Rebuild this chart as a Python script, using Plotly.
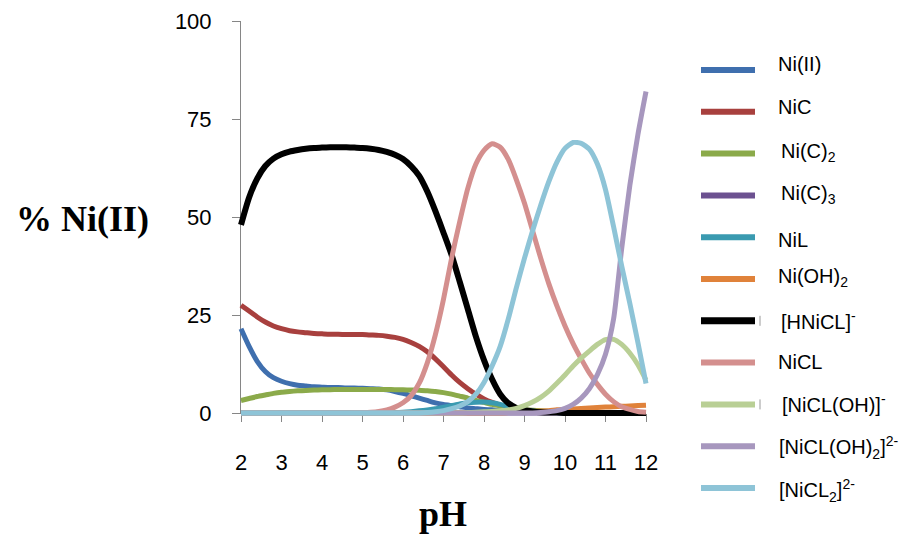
import plotly.graph_objects as go

# pH grid (step 0.2)
ph = [round(2 + 0.2 * i, 1) for i in range(51)]

ni_ii = [21.5, 17, 13.2, 10.6, 9.0, 8.1, 7.5, 7.1, 6.9, 6.7, 6.6, 6.5, 6.5, 6.4, 6.4, 6.3, 6.2, 6.1, 5.9, 5.5,
         5.0, 4.4, 3.8, 3.2, 2.6, 2.2, 1.9, 1.6, 1.3, 1.1, 0.9, 0.8, 0.6, 0.5, 0.4, 0.3, 0.2, 0.15, 0.1, 0.1,
         0, 0, 0, 0, 0, 0, 0, 0, 0, 0, 0]
nic = [27.5, 26, 24.5, 23.2, 22.2, 21.5, 21.0, 20.7, 20.5, 20.3, 20.2, 20.1, 20.1, 20.0, 20.0, 20.0, 19.9, 19.8,
       19.6, 19.3, 18.8, 18.0, 17.0, 15.6, 13.8, 11.8, 9.7, 7.8, 6.2, 4.8, 3.6, 2.7, 2.0, 1.4, 1.0, 0.6, 0.4,
       0.25, 0.15, 0.1, 0, 0, 0, 0, 0, 0, 0, 0, 0, 0, 0]
ni_c2 = [3.2, 3.7, 4.2, 4.6, 5.0, 5.3, 5.5, 5.65, 5.75, 5.85, 5.9, 5.95, 6.0, 6.0, 6.0, 6.0, 6.0, 6.0, 6.0, 5.95,
         5.9, 5.85, 5.8, 5.65, 5.5, 5.2, 4.8, 4.3, 3.8, 3.2, 2.7, 2.2, 1.8, 1.4, 1.1, 0.9, 0.7, 0.55, 0.45, 0.35,
         0.3, 0.25, 0.2, 0.15, 0.1, 0.1, 0.05, 0.05, 0, 0, 0]
ni_c3 = [0, 0, 0, 0, 0, 0.05, 0.05, 0.05, 0.05, 0.05, 0.05, 0.05, 0.05, 0.05, 0.05, 0.05, 0.05, 0.05, 0.05, 0.05,
         0.05, 0.05, 0.05, 0, 0, 0, 0, 0, 0, 0, 0, 0, 0, 0, 0, 0, 0, 0, 0, 0,
         0, 0, 0, 0, 0, 0, 0, 0, 0, 0, 0]
nil = [0, 0, 0, 0, 0, 0, 0, 0, 0, 0, 0, 0, 0, 0, 0, 0, 0, 0, 0, 0.1,
       0.2, 0.35, 0.55, 0.8, 1.1, 1.5, 1.9, 2.3, 2.6, 2.75, 2.8, 2.6, 2.2, 1.7, 1.2, 0.8, 0.5, 0.3, 0.2, 0.1,
       0, 0, 0, 0, 0, 0, 0, 0, 0, 0, 0]
ni_oh2 = [0, 0, 0, 0, 0, 0, 0, 0, 0, 0, 0, 0, 0, 0, 0, 0, 0, 0, 0, 0,
          0, 0, 0, 0, 0, 0, 0, 0, 0, 0, 0, 0, 0, 0.1, 0.2, 0.3, 0.4, 0.5, 0.6, 0.8,
          0.9, 1.0, 1.15, 1.3, 1.4, 1.5, 1.6, 1.7, 1.8, 1.9, 2.0]
hnicl = [48, 55, 59.8, 63, 64.9, 66, 66.7, 67.1, 67.4, 67.6, 67.7, 67.8, 67.8, 67.8, 67.7, 67.6, 67.4, 67.1, 66.6,
         65.9, 64.8, 63, 60.5, 56.5, 51.5, 46, 40.3, 33.5, 26.5, 19.5, 13.5, 8.6, 4.8, 2.5, 1.3, 0.7, 0.4, 0.2,
         0.1, 0.1, 0, 0, 0, 0, 0, 0, 0, 0, 0, 0, 0]
nicl = [0, 0, 0, 0, 0, 0, 0, 0, 0, 0, 0, 0, 0, 0, 0.05, 0.1, 0.2, 0.4, 0.8, 1.5,
        2.6, 4.4, 7.6, 12.8, 20, 29, 39.5, 48.8, 57.3, 63.5, 67, 68.7, 67.8, 64.7, 59.5, 53.5, 46.5, 39.5, 33, 27.3,
        22.2, 17.7, 13.8, 10.2, 7.3, 4.8, 2.9, 1.6, 0.9, 0.4, 0.2]
nicl_oh = [0, 0, 0, 0, 0, 0, 0, 0, 0, 0, 0, 0, 0, 0, 0, 0, 0, 0, 0, 0,
           0, 0, 0, 0, 0, 0, 0, 0, 0.1, 0.2, 0.3, 0.4, 0.6, 0.8, 1.2, 1.9, 2.8, 4, 5.6, 7.6,
           9.7, 12, 14, 15.8, 17.5, 18.7, 18.8, 17.5, 15.3, 12.3, 8.4]
nicl_oh2 = [0, 0, 0, 0, 0, 0, 0, 0, 0, 0, 0, 0, 0, 0, 0, 0, 0, 0, 0, 0,
            0, 0, 0, 0, 0, 0, 0, 0, 0, 0, 0, 0, 0, 0, 0, 0, 0, 0.1, 0.3, 0.6,
            1.2, 2.2, 3.8, 6.2, 9.8, 15, 24, 42, 58, 71, 82]
nicl2 = [0, 0, 0, 0, 0, 0, 0, 0, 0, 0, 0, 0, 0, 0, 0, 0, 0, 0, 0, 0,
         0, 0, 0, 0.1, 0.3, 0.6, 1.1, 1.8, 2.9, 4.8, 7.8, 12, 17, 24, 32, 39.5, 46.5, 53, 59, 64,
         67.5, 69, 68.8, 67.3, 63.5, 57, 47.5, 37.5, 28, 18, 7.5]

names = ["Ni(II)", "NiC", "Ni(C)<sub>2</sub>", "Ni(C)<sub>3</sub>", "NiL", "Ni(OH)<sub>2</sub>",
         "[HNiCL]<sup>-</sup>", "NiCL", "[NiCL(OH)]<sup>-</sup>",
         "[NiCL(OH)<sub>2</sub>]<sup>2-</sup>", "[NiCL<sub>2</sub>]<sup>2-</sup>"]
series = [ni_ii, nic, ni_c2, ni_c3, nil, ni_oh2, hnicl, nicl, nicl_oh, nicl_oh2, nicl2]
colors = ["#3F6FAE", "#A8403E", "#8BAA4A", "#6C5190", "#3A9AB0", "#E0823A",
          "#000000", "#D48F8E", "#B9CF95", "#A797BE", "#8EC4D7"]
widths = [5, 5, 5, 5, 5, 5, 6, 5, 5, 5, 5]

for s in series:
    assert len(s) == len(ph)

x_ticks = list(range(2, 13))
y_ticks = [0, 25, 50, 75, 100]

# canvas geometry in pixels; the whole figure is the plotting area (no margins)
W, H = 903, 534
AX_L, AX_R, AX_T, AX_B = 241, 646, 21, 413   # axis box


def px(xp):
    return xp / W


def py(yp):
    return (H - yp) / H


fig = go.Figure()

# empty trace so the framed x/y subplot (axis lines, ticks, labels) is rendered
fig.add_trace(go.Scatter(x=[], y=[], xaxis="x", yaxis="y", showlegend=False, hoverinfo="skip"))

# data subplot (x2/y2) covers the full figure; its ranges give it the same scale as
# the framed axes while keeping thick lines from being clipped at the axis edges
x_per_px = (x_ticks[-1] - x_ticks[0]) / (AX_R - AX_L)
y_per_px = (y_ticks[-1] - y_ticks[0]) / (AX_B - AX_T)
x2_range = [x_ticks[0] - AX_L * x_per_px, x_ticks[-1] + (W - AX_R) * x_per_px]
y2_range = [y_ticks[0] - (H - AX_B) * y_per_px, y_ticks[-1] + AX_T * y_per_px]

for name, s, c, w in zip(names, series, colors, widths):
    fig.add_trace(go.Scatter(x=ph, y=s, mode="lines", name=name, xaxis="x2", yaxis="y2",
                             line=dict(color=c, width=w, shape="spline", smoothing=0.6),
                             showlegend=False, hoverinfo="x+y+name"))

axis_grey = "#868686"
tick_font = dict(family="Liberation Sans, Arial", size=22, color="#000000")

# legend drawn beside the plot
leg_y0, leg_dy = 70, 41.8
label_lift = [6, 5, 1, 1, -3, 1, 0, 1, 1, -1, -2]   # small vertical nudges of the legend texts
label_dx = [0, 0, 3, 3, 0, 0, 3, 0, 4, 1, 1]
shapes = []
annotations = []
for i, (name, c) in enumerate(zip(names, colors)):
    yy = leg_y0 + i * leg_dy
    shapes.append(dict(type="line", xref="paper", yref="paper", x0=px(701), x1=px(755),
                       y0=py(yy), y1=py(yy), line=dict(color=c, width=7 if c == "#000000" else 6)))
    annotations.append(dict(xref="paper", yref="paper", x=px(776 + label_dx[i]), y=py(yy - label_lift[i]),
                            text=name, showarrow=False, xanchor="left", yanchor="middle",
                            font=dict(family="Liberation Sans, Arial", size=20, color="#000000")))
    if name.startswith("[HNiCL]") or name.startswith("[NiCL(OH)]"):
        shapes.append(dict(type="line", xref="paper", yref="paper", x0=px(760), x1=px(760),
                           y0=py(yy - 5), y1=py(yy + 5), line=dict(color="#9a9a9a", width=1)))

annotations.append(dict(xref="paper", yref="paper", x=px(82), y=py(219), text="<b>% Ni(II)</b>",
                        showarrow=False, xanchor="center", yanchor="middle",
                        font=dict(family="Liberation Serif, Times New Roman", size=36, color="#000000")))
annotations.append(dict(xref="paper", yref="paper", x=px(443), y=py(514), text="<b>pH</b>",
                        showarrow=False, xanchor="center", yanchor="middle",
                        font=dict(family="Liberation Serif, Times New Roman", size=36, color="#000000")))

fig.update_layout(
    width=W, height=H, autosize=False,
    margin=dict(l=0, r=0, t=0, b=0, pad=0),
    paper_bgcolor="white", plot_bgcolor="rgba(0,0,0,0)",
    showlegend=False,
    xaxis=dict(domain=[px(AX_L), px(AX_R)], range=[x_ticks[0], x_ticks[-1]], tickvals=x_ticks,
               showline=True, linecolor=axis_grey, linewidth=1, ticks="outside", ticklen=8,
               tickcolor=axis_grey, showgrid=False, zeroline=False, tickfont=tick_font,
               ticklabelstandoff=22, anchor="y", fixedrange=True, automargin=False),
    yaxis=dict(domain=[py(AX_B), py(AX_T)], range=[y_ticks[0], y_ticks[-1]], tickvals=y_ticks,
               showline=True, linecolor=axis_grey, linewidth=1, ticks="outside", ticklen=8,
               tickcolor=axis_grey, showgrid=False, zeroline=False, tickfont=tick_font,
               ticklabelstandoff=16, anchor="x", fixedrange=True, automargin=False),
    xaxis2=dict(domain=[0, 1], range=x2_range, anchor="y2", visible=False, fixedrange=True,
                automargin=False),
    yaxis2=dict(domain=[0, 1], range=y2_range, anchor="x2", visible=False, fixedrange=True,
                automargin=False),
    shapes=shapes,
    annotations=annotations,
)

fig.write_html("out.html", config={"displayModeBar": False})
